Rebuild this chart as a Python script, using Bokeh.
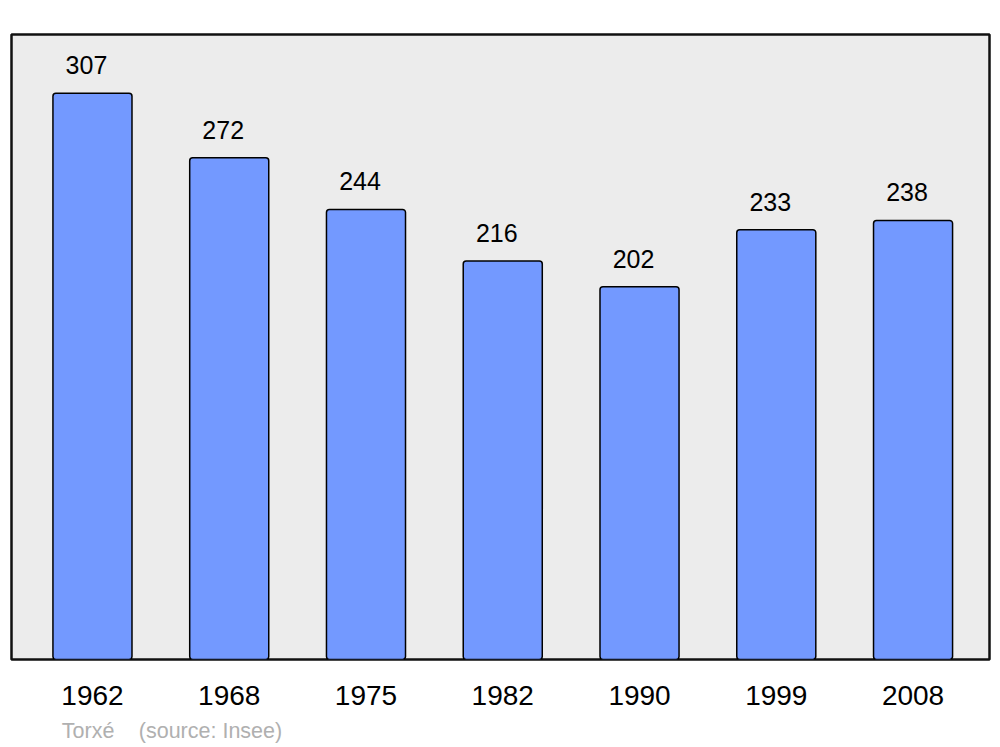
from bokeh.plotting import figure
from bokeh.models import ColumnDataSource, FixedTicker, Range1d, LinearAxis
from bokeh.core.properties import value
from bokeh.embed import file_html
from bokeh.resources import INLINE

years = ["1962", "1968", "1975", "1982", "1990", "1999", "2008"]
population = [307, 272, 244, 216, 202, 233, 238]
footer_texts = ["Torxé", "(source: Insee)"]
footer_pos = [-0.032, 0.863]

idx = list(range(len(years)))
src = ColumnDataSource(dict(x=idx, top=population, lbl=[str(v) for v in population]))

p = figure(width=1000, height=745, output_backend="svg", toolbar_location=None,
           x_range=Range1d(-0.592, len(years) - 1 + 0.559), y_range=Range1d(0, 338.8),
           min_border_left=11, min_border_right=11, min_border_top=34, min_border_bottom=85,
           x_axis_location=None, y_axis_location=None)

p.background_fill_color = "#ececec"
p.border_fill_color = "white"
p.outline_line_color = "#111111"
p.outline_line_width = 2.5

p.vbar(x="x", top="top", bottom=0, width=0.578, source=src,
       fill_color="#7399ff", line_color="black", line_width=1.5, border_radius=3)

p.text(x="x", y="top", text="lbl", source=src, x_offset=-6, y_offset=-28,
       text_align="center", text_baseline="middle",
       text_font=value("Liberation Sans"), text_font_size="25px", text_color="black")

p.xgrid.visible = False
p.ygrid.visible = False

xa = LinearAxis(ticker=FixedTicker(ticks=idx),
                major_label_overrides={i: y for i, y in zip(idx, years)})
xa.axis_line_color = None
xa.major_tick_line_color = None
xa.minor_tick_line_color = None
xa.major_label_standoff = 20
xa.major_label_text_font = "Liberation Sans"
xa.major_label_text_font_size = "28px"
xa.major_label_text_color = "black"
p.add_layout(xa, "below")

fa = LinearAxis(ticker=FixedTicker(ticks=footer_pos),
                major_label_overrides={k: t for k, t in zip(footer_pos, footer_texts)})
fa.axis_line_color = None
fa.major_tick_line_color = None
fa.minor_tick_line_color = None
fa.major_label_standoff = 5
fa.major_label_text_font = "Liberation Sans"
fa.major_label_text_font_size = "21.5px"
fa.major_label_text_color = "#b0b0b0"
p.add_layout(fa, "below")

open("out.html", "w").write(file_html(p, INLINE))
